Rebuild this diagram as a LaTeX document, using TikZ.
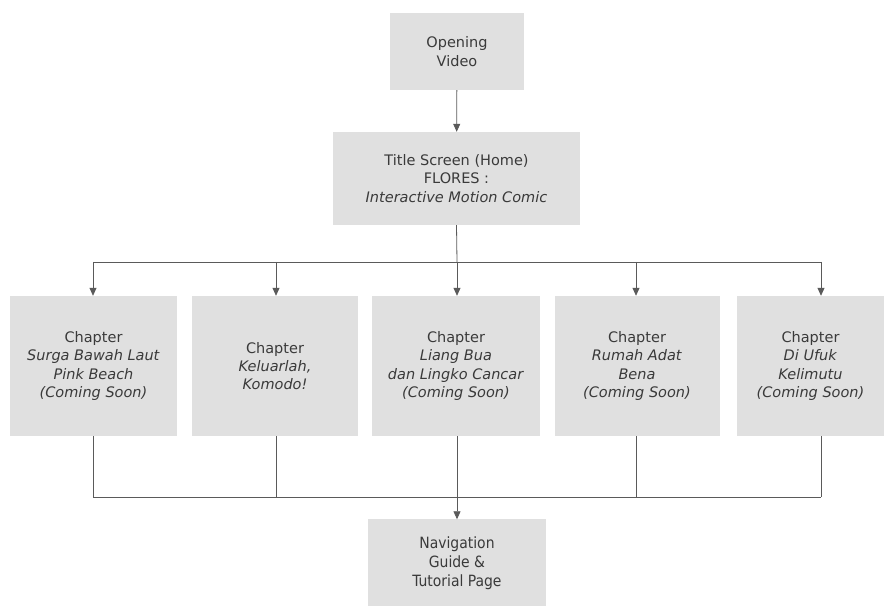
\documentclass[tikz,border=0pt]{standalone}
\usepackage{fontspec}
\setmainfont{DejaVu Sans}
\newfontfamily\condfont{DejaVu Sans Condensed}
\usetikzlibrary{arrows.meta}
\definecolor{boxfill}{HTML}{E0E0E0}
\definecolor{txt}{HTML}{3A3A3A}
\definecolor{ln}{HTML}{5A5A5A}
\tikzset{
  box/.style={draw=none, fill=boxfill, text=txt, align=center, font=\fontsize{14.5}{18.3}\selectfont, inner sep=0pt},
  conn/.style={draw=ln, line width=0.8pt},
  arr/.style={conn, -{Triangle[width=7pt,length=8pt]}}
}
\begin{document}
\begin{tikzpicture}[x=1pt,y=1pt]
\useasboundingbox (0,0) rectangle (888,607);
\node[box, minimum width=134, minimum height=77] (ov) at (457,555.5) {Opening\\Video};
\node[box, minimum width=247, minimum height=93] (title) at (456.5,428.5) {Title Screen (Home)\\FLORES :\\\textit{Interactive Motion Comic}};
\node[box, minimum width=167, minimum height=140] (c1) at (93.5,241) {Chapter\\\textit{Surga Bawah Laut}\\\textit{Pink Beach}\\\textit{(Coming Soon)}};
\node[box, minimum width=166, minimum height=140] (c2) at (275,241) {Chapter\\\textit{Keluarlah,}\\\textit{Komodo!}};
\node[box, minimum width=168, minimum height=140] (c3) at (456,241) {Chapter\\\textit{Liang Bua}\\\textit{dan Lingko Cancar}\\\textit{(Coming Soon)}};
\node[box, minimum width=165, minimum height=140] (c4) at (637,241) {Chapter\\\textit{Rumah Adat}\\\textit{Bena}\\\textit{(Coming Soon)}};
\node[box, minimum width=147, minimum height=140] (c5) at (810.5,241) {Chapter\\\textit{Di Ufuk}\\\textit{Kelimutu}\\\textit{(Coming Soon)}};
\node[box, minimum width=178, minimum height=87, font=\condfont\fontsize{15.5}{19}\selectfont] (nav) at (457,44) {Navigation\\Guide \&\\Tutorial Page};
% coordinates
\coordinate (hub) at (457,345);
\coordinate (t1) at (93,345);
\coordinate (t2) at (276,345);
\coordinate (t3) at (457,345);
\coordinate (t4) at (636,345);
\coordinate (t5) at (821,345);
\coordinate (b1) at (93,110);
\coordinate (b2) at (276,110);
\coordinate (b3) at (457,110);
\coordinate (b4) at (636,110);
\coordinate (b5) at (821,110);
% connectors
\draw[arr] (ov) -- (title);
\draw[conn] (title.south) -- (hub);
\draw[conn] (t1) -- (t5);
\foreach \i in {1,...,5} {
  \draw[arr] (t\i) -- (t\i |- c\i.north);
  \draw[conn] (b\i |- c\i.south) -- (b\i);
}
\draw[conn] (b1) -- (b5);
\draw[arr] (b3) -- (nav);
\end{tikzpicture}
\end{document}
